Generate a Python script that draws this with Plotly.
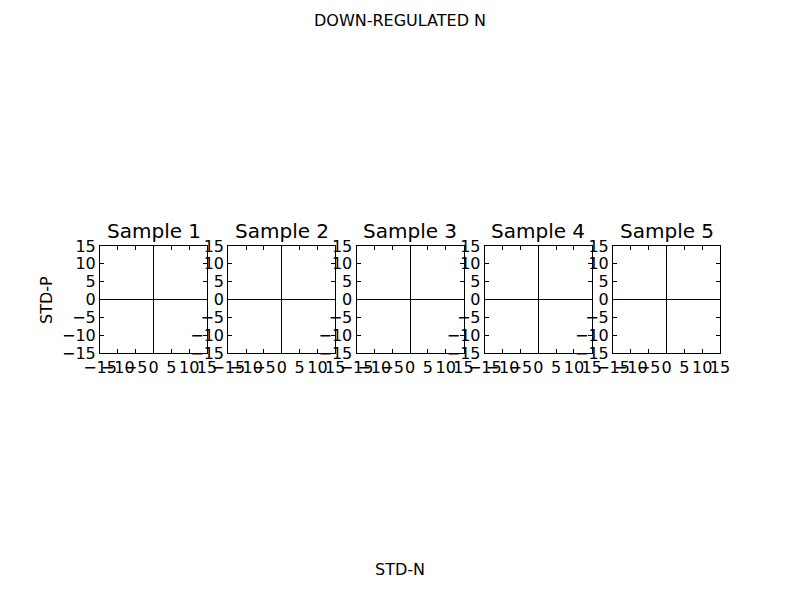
import plotly.graph_objects as go

samples = ["Sample 1", "Sample 2", "Sample 3", "Sample 4", "Sample 5"]
axis_range = [-15, 15]
tick_vals = [-15, -10, -5, 0, 5, 10, 15]
suptitle = "DOWN-REGULATED N"
x_label = "STD-N"
y_label = "STD-P"

W, H = 800, 600
FONT = "DejaVu Sans"
OFF = 8  # page body margin compensation
left0, ax_w, gap = 100 - OFF, 107, 21.25
top_px, bot_px = 246 - OFF, 353 - OFF

fig = go.Figure()
layout = dict(
    width=W, height=H, margin=dict(l=0, r=0, t=0, b=0, autoexpand=False),
    paper_bgcolor="white", plot_bgcolor="white", showlegend=False,
    font=dict(family=FONT, color="black", size=16),
)
annotations = []
for i, name in enumerate(samples):
    n = "" if i == 0 else str(i + 1)
    x0 = (left0 + i * (ax_w + gap)) / W
    x1 = (left0 + i * (ax_w + gap) + ax_w) / W
    y0 = 1 - bot_px / H
    y1 = 1 - top_px / H
    common = dict(
        range=axis_range, tickvals=tick_vals, ticks="inside", ticklen=4,
        tickcolor="black", showline=True, linecolor="black", linewidth=1,
        mirror="ticks", showgrid=False, zeroline=True, zerolinecolor="black",
        zerolinewidth=1, tickfont=dict(family=FONT, size=16, color="black"),
        fixedrange=True, tickangle=0, automargin=False,
    )
    layout["xaxis" + n] = dict(domain=[x0, x1], anchor="y" + n, **common)
    layout["yaxis" + n] = dict(domain=[y0, y1], anchor="x" + n, **common)
    fig.add_trace(go.Scatter(x=[], y=[], xaxis="x" + n, yaxis="y" + n))
    annotations.append(dict(
        text=name, x=(x0 + x1) / 2, y=y1, xref="paper", yref="paper",
        xanchor="center", yanchor="bottom", yshift=1, showarrow=False,
        font=dict(family=FONT, size=20, color="black"),
    ))

annotations.append(dict(text=suptitle, x=(400 - OFF) / W, y=1 - (20 - OFF) / H, xref="paper", yref="paper",
                        xanchor="center", yanchor="middle", showarrow=False,
                        font=dict(family=FONT, size=16, color="black")))
annotations.append(dict(text=x_label, x=(400 - OFF) / W, y=1 - (569 - OFF) / H, xref="paper", yref="paper",
                        xanchor="center", yanchor="middle", showarrow=False,
                        font=dict(family=FONT, size=16, color="black")))
annotations.append(dict(text=y_label, x=(46 - OFF) / W, y=1 - (300 - OFF) / H, xref="paper", yref="paper",
                        xanchor="center", yanchor="middle", showarrow=False, textangle=-90,
                        font=dict(family=FONT, size=16, color="black")))
layout["annotations"] = annotations
fig.update_layout(**layout)
fig.write_html("out.html")
